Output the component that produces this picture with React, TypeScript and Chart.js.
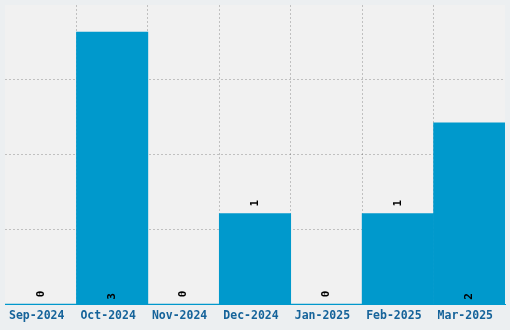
import React, { useEffect, useRef } from "react";
import { Chart, registerables } from "chart.js";

Chart.register(...registerables);

const categories = ["Sep-2024", "Oct-2024", "Nov-2024", "Dec-2024", "Jan-2025", "Feb-2025", "Mar-2025"];
const values = [0, 3, 0, 1, 0, 1, 2];
const yMax = 3.3;
const yStep = yMax / 4;

const FONT = "'DejaVu Sans Mono', monospace";
const GRID = "rgba(0,0,0,0.2)";
const NONE = "rgba(0,0,0,0)";

const areaBg = {
  id: "areaBg",
  beforeDraw(chart: any) {
    const { ctx, chartArea } = chart;
    ctx.save();
    ctx.fillStyle = "#f1f1f1";
    ctx.fillRect(chartArea.left, chartArea.top, chartArea.right - chartArea.left, chartArea.bottom - chartArea.top);
    ctx.restore();
  },
};

const valueLabels = {
  id: "valueLabels",
  afterDraw(chart: any) {
    const { ctx } = chart;
    const meta = chart.getDatasetMeta(0);
    ctx.save();
    ctx.font = "bold 11px " + FONT;
    ctx.fillStyle = "#000000";
    ctx.textBaseline = "middle";
    ctx.textAlign = "left";
    meta.data.forEach((bar: any, i: number) => {
      const v = values[i];
      const start = v >= 2 ? bar.base - 4 : bar.y - 7;
      ctx.save();
      ctx.translate(bar.x, start);
      ctx.rotate(-Math.PI / 2);
      ctx.fillText(String(v), 0, 0);
      ctx.restore();
    });
    ctx.restore();
  },
};

export default function App() {
  const ref = useRef<HTMLCanvasElement | null>(null);
  useEffect(() => {
    document.body.style.margin = "0";
    document.body.style.background = "#eceff1";
    const chart = new Chart(ref.current as HTMLCanvasElement, {
      type: "bar",
      data: {
        labels: categories,
        datasets: [
          {
            data: values,
            backgroundColor: "#0099cc",
            borderWidth: 0,
            barPercentage: 1,
            categoryPercentage: 1,
          },
        ],
      },
      options: {
        animation: false,
        responsive: false,
        maintainAspectRatio: false,
        layout: { padding: { top: 5, left: 5, right: 5, bottom: 2 } },
        plugins: { legend: { display: false }, tooltip: { enabled: false } },
        scales: {
          x: {
            z: 1,
            offset: true,
            grid: {
              display: true,
              drawTicks: false,
              offset: true,
              color: (c: any) => (c.index === undefined || c.index === 0 || c.index >= categories.length ? NONE : GRID),
            } as any,
            border: { display: true, color: "#0099cc", width: 1, dash: [2, 2] } as any,
            ticks: {
              font: { family: FONT, size: 11.5, weight: "bold" },
              color: "#15639a",
              padding: 5,
              labelOffset: -4,
              maxRotation: 0,
              autoSkip: false,
            },
          },
          y: {
            z: 1,
            min: 0,
            max: yMax,
            grid: {
              display: true,
              drawTicks: false,
              color: (c: any) => (c.index === undefined || c.index === 0 || c.index >= 4 ? NONE : GRID),
            },
            border: { display: false, dash: [2, 2] } as any,
            ticks: { display: false, stepSize: yStep },
          },
        },
      },
      plugins: [areaBg, valueLabels],
    });
    return () => chart.destroy();
  }, []);
  return (
    <div style={{ width: 510, height: 330, background: "#eceff1" }}>
      <canvas ref={ref} width={510} height={330} style={{ display: "block" }} />
    </div>
  );
}
